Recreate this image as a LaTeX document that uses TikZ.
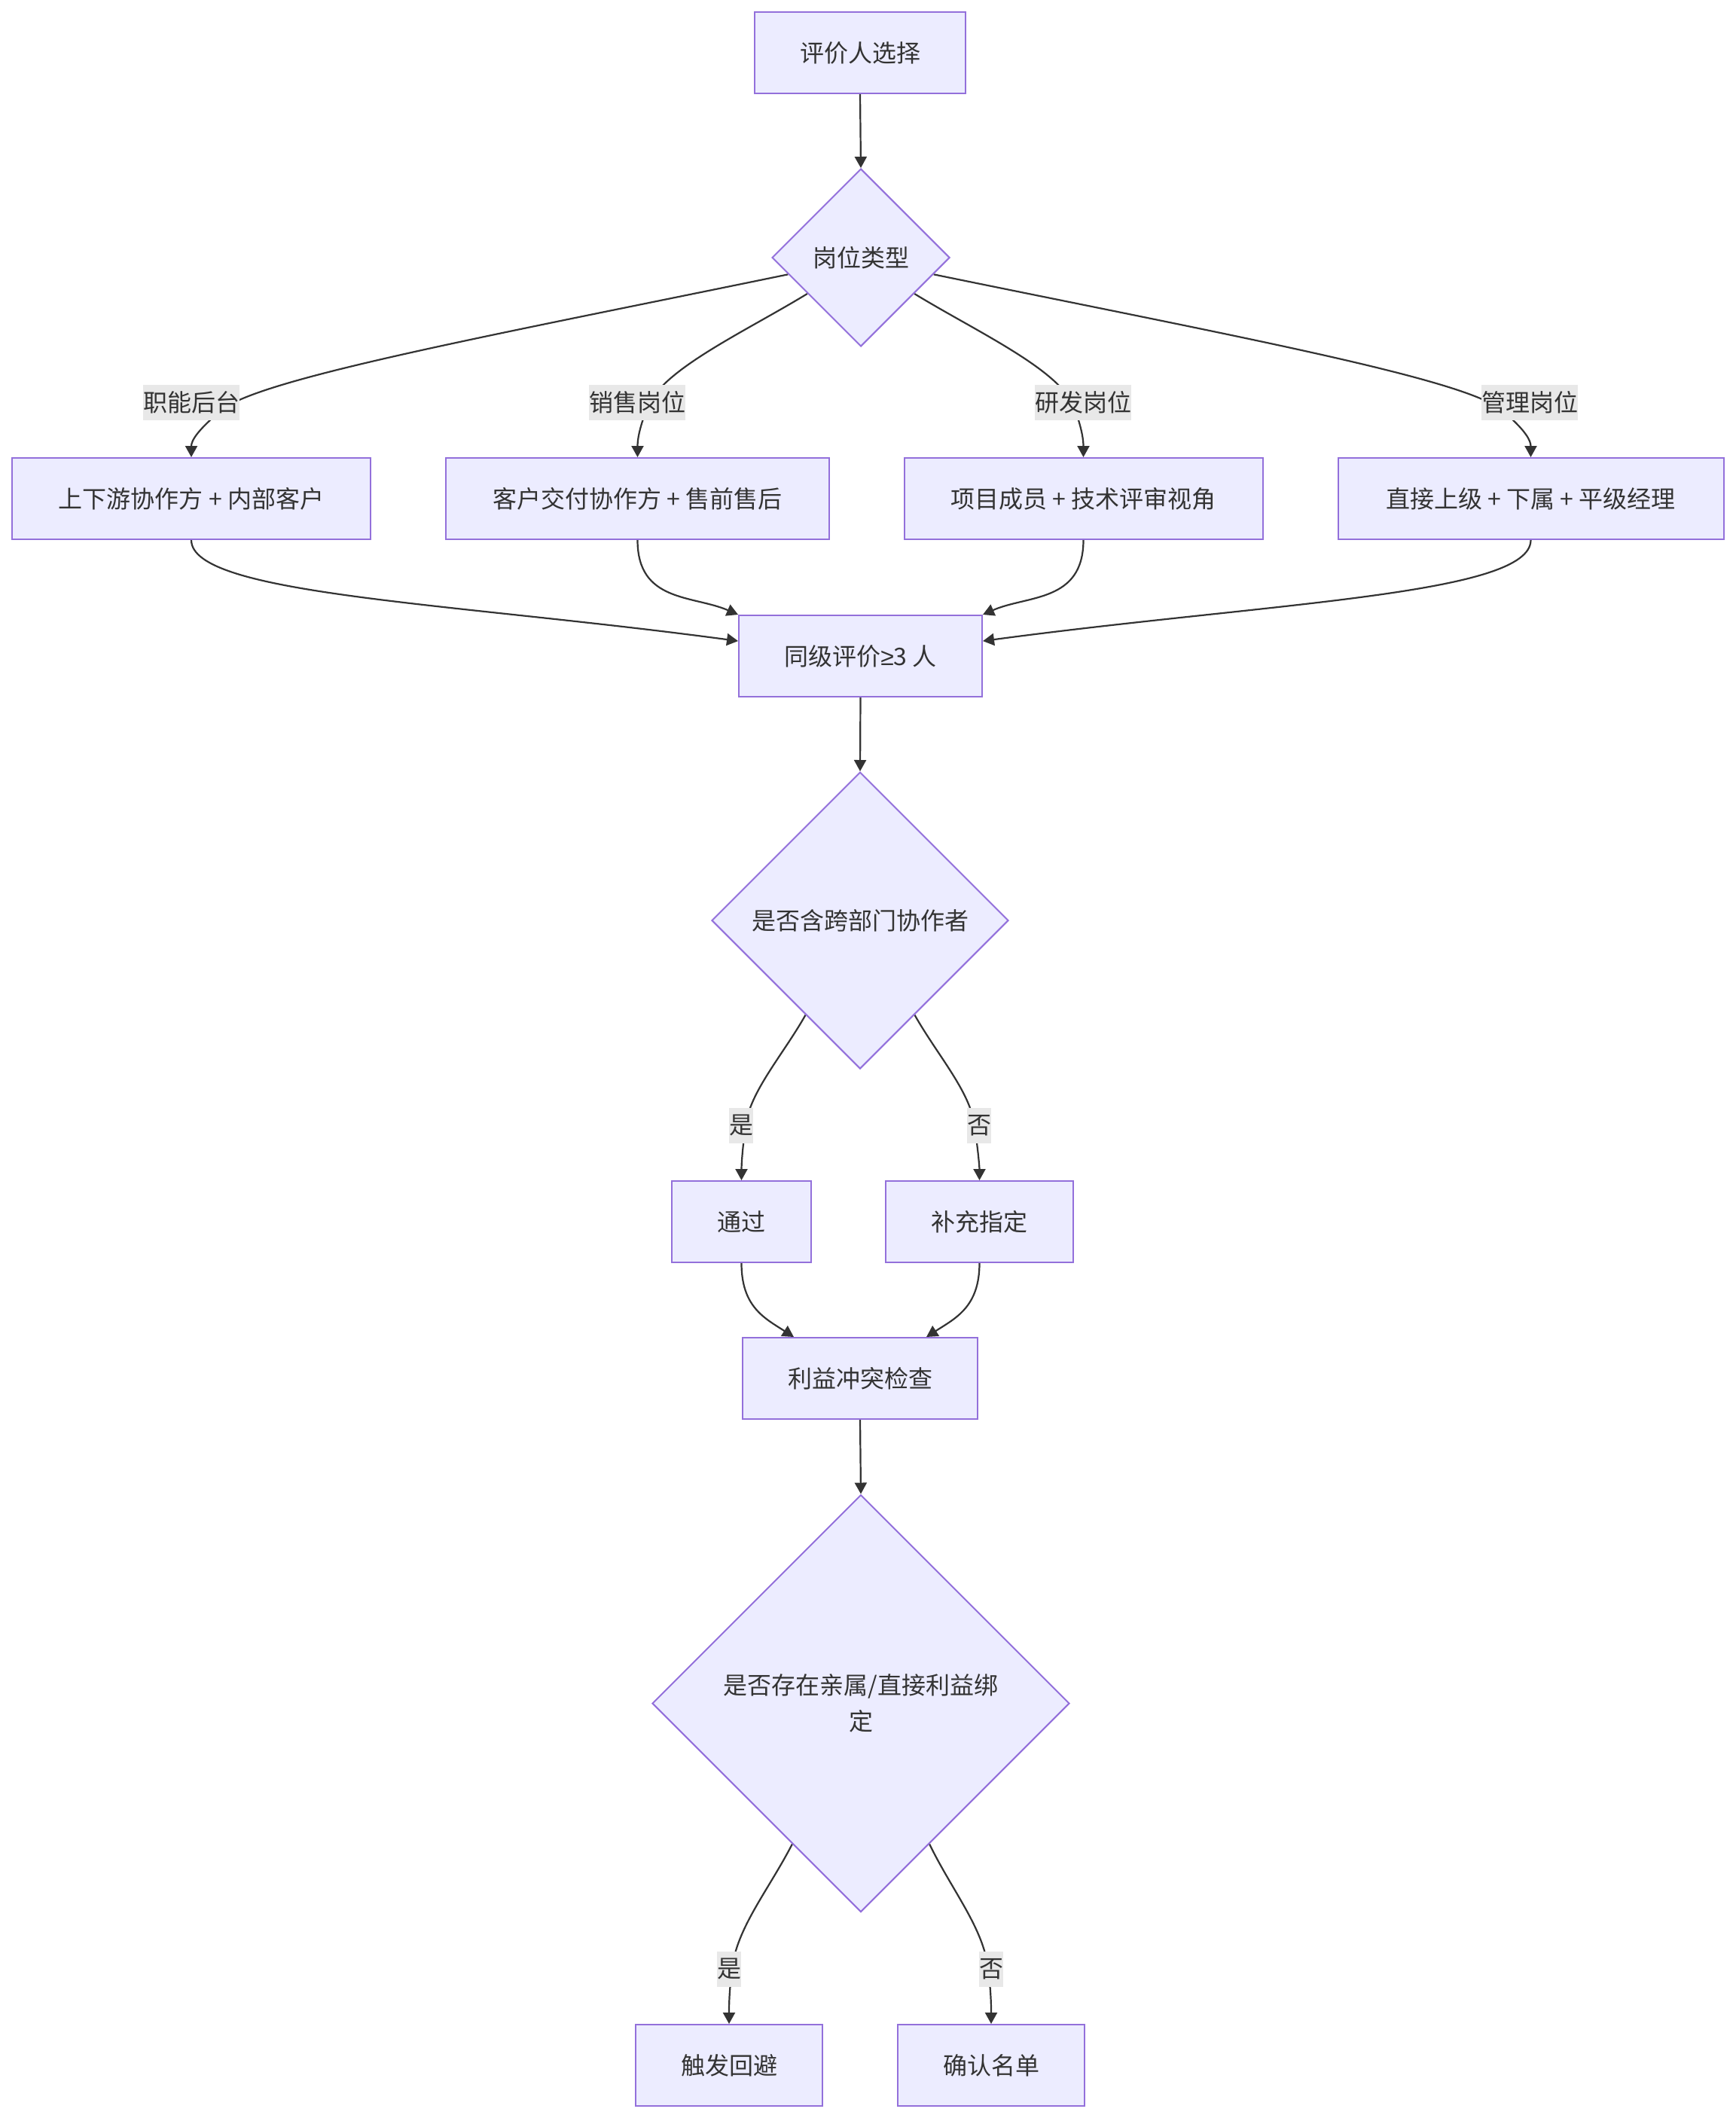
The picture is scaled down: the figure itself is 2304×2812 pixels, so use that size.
\documentclass[tikz,border=0pt]{standalone}
\usepackage{fontspec}
\setmainfont{Noto Sans CJK SC}
\newfontfamily\symfont{Liberation Sans}
\usetikzlibrary{arrows.meta,shapes.geometric}
\definecolor{nodefill}{HTML}{ECECFF}
\definecolor{nodeborder}{HTML}{9370DB}
\definecolor{linec}{HTML}{333333}
\definecolor{textc}{HTML}{333333}
\definecolor{labelbg}{HTML}{E8E8E8}
\pgfdeclarelayer{bg}
\pgfsetlayers{bg,main}
\begin{document}
\begin{tikzpicture}[x=0.5pt,y=-0.5pt,
  box/.style={draw=nodeborder, fill=nodefill, line width=1pt, inner sep=0pt, text=textc, font=\fontsize{16pt}{24pt}\selectfont, minimum height=54pt},
  dec/.style={diamond, aspect=1, draw=nodeborder, fill=nodefill, line width=1pt, inner sep=0pt, text=textc, font=\fontsize{16pt}{24pt}\selectfont, align=center},
  elabel/.style={fill=labelbg, inner sep=0pt, minimum height=23.5pt, text=textc, font=\fontsize{16pt}{24pt}\selectfont},
  conn/.style={draw=linec, line width=1.1pt, -{Triangle[length=7.5pt,width=8pt]}}
]
\useasboundingbox (0,0) rectangle (2304,2812);

% nodes
\node[box, minimum width=140pt] (A) at (1142,70) {评价人选择};
\node[dec, minimum width=118pt, minimum height=118pt] (B) at (1143,342) {岗位类型};
\node[box, minimum width=238pt] (C1) at (254,662) {上下游协作方 + 内部客户};
\node[box, minimum width=254.5pt] (C2) at (846.5,662) {客户交付协作方 + 售前售后};
\node[box, minimum width=238pt] (C3) at (1438.5,662) {项目成员 + 技术评审视角};
\node[box, minimum width=256pt] (C4) at (2032.5,662) {直接上级 + 下属 + 平级经理};
\node[box, minimum width=161.5pt] (D) at (1142.5,871) {同级评价{\symfont ≥}3 人};
\node[dec, minimum width=197pt, minimum height=197pt] (F) at (1142,1222) {是否含跨部门协作者};
\node[box, minimum width=92.5pt] (G1) at (984.5,1622) {通过};
\node[box, minimum width=124.5pt] (G2) at (1300.5,1622) {补充指定};
\node[box, minimum width=156pt] (E) at (1142,1830) {利益冲突检查};
\node[dec, minimum width=277pt, minimum height=277pt] (H) at (1143,2261.5) {是否存在亲属/直接利益绑\\定};
\node[box, minimum width=124pt] (I1) at (968,2742) {触发回避};
\node[box, minimum width=124pt] (I2) at (1316,2742) {确认名单};

% edge labels
\node[elabel] (L1) at (254,534) {职能后台};
\node[elabel] (L2) at (846,534) {销售岗位};
\node[elabel] (L3) at (1438,534) {研发岗位};
\node[elabel] (L4) at (2031,534) {管理岗位};
\node[elabel] (L5) at (984,1494) {是};
\node[elabel] (L6) at (1300,1494) {否};
\node[elabel] (L7) at (968,2614) {是};
\node[elabel] (L8) at (1316,2614) {否};

\begin{pgfonlayer}{bg}
\fill[white] (0,0) rectangle (2304,2812);
\draw[conn] (A.south) -- (B.north);
\draw[conn] (B.193) .. controls (640,448) and (330,505) .. (290,548) .. controls (262,572) and (254,585) .. (C1.north);
\draw[conn] (B.214) .. controls (990,440) and (880,490) .. (860,540) .. controls (848,570) and (846.5,585) .. (C2.north);
\draw[conn] (B.326) .. controls (1296,440) and (1406,490) .. (1426,540) .. controls (1437,570) and (1438.5,585) .. (C3.north);
\draw[conn] (B.347) .. controls (1648,448) and (1958,505) .. (1998,548) .. controls (2026,572) and (2032.5,585) .. (C4.north);
\draw[conn] (C1.south) .. controls (254,790) and (600,800) .. (D.173);
\draw[conn] (C2.south) .. controls (846.5,800) and (920,790) .. (D.north west);
\draw[conn] (C3.south) .. controls (1438.5,800) and (1364,790) .. (D.north east);
\draw[conn] (C4.south) .. controls (2032.5,790) and (1686,800) .. (D.7);
\draw[conn] (D.south) -- (F.north);
\draw[conn] (F.240) .. controls (1040,1400) and (995,1450) .. (990,1495) .. controls (985,1530) and (984.5,1550) .. (G1.north);
\draw[conn] (F.300) .. controls (1244,1400) and (1289,1450) .. (1294,1495) .. controls (1299,1530) and (1300.5,1550) .. (G2.north);
\draw[conn] (G1.south) .. controls (984.5,1735) and (1015,1750) .. (E.148);
\draw[conn] (G2.south) .. controls (1300.5,1735) and (1269,1750) .. (E.32);
\draw[conn] (E.south) -- (H.north);
\draw[conn] (H.244) .. controls (1020,2510) and (978,2560) .. (972,2614) .. controls (968,2645) and (968,2665) .. (I1.north);
\draw[conn] (H.296) .. controls (1264,2510) and (1306,2560) .. (1312,2614) .. controls (1316,2645) and (1316,2665) .. (I2.north);
\end{pgfonlayer}
\end{tikzpicture}
\end{document}
